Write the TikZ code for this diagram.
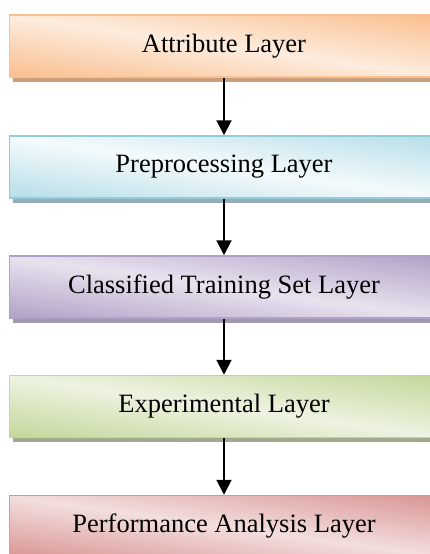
\documentclass[tikz,border=0pt]{standalone}
\usepackage{fontspec}
\setmainfont{Liberation Serif}
\usetikzlibrary{arrows.meta,shadows}
\definecolor{orD}{RGB}{250,191,143}
\definecolor{orL}{RGB}{253,236,222}
\definecolor{orB}{RGB}{250,192,144}
\definecolor{orS}{RGB}{200,160,128}
\definecolor{blD}{RGB}{183,222,232}
\definecolor{blL}{RGB}{244,250,252}
\definecolor{blB}{RGB}{146,205,220}
\definecolor{blS}{RGB}{150,172,182}
\definecolor{puD}{RGB}{178,161,199}
\definecolor{puL}{RGB}{232,226,238}
\definecolor{puB}{RGB}{178,161,199}
\definecolor{puS}{RGB}{160,152,172}
\definecolor{grD}{RGB}{196,215,155}
\definecolor{grL}{RGB}{237,243,225}
\definecolor{grB}{RGB}{196,215,155}
\definecolor{grS}{RGB}{162,170,142}
\definecolor{reD}{RGB}{217,150,148}
\definecolor{reL}{RGB}{243,222,222}
\definecolor{reB}{RGB}{217,150,148}
\definecolor{reS}{RGB}{175,130,130}
\pgfdeclareverticalshading[dk,lt]{diagband}{100bp}{%
  color(0bp)=(dk); color(22bp)=(dk); color(50bp)=(lt);
  color(78bp)=(dk); color(100bp)=(dk)}
\tikzset{
  layerbox/.style n args={4}{draw=#3, line width=1.5pt,
    shade, shading=diagband, shading angle=-8,
    /utils/exec={\colorlet{dk}{#1}\colorlet{lt}{#2}},
    minimum width=429pt, minimum height=62pt, inner sep=0pt,
    general shadow={shadow xshift=3.5pt, shadow yshift=-4.5pt, fill=#4},
    font=\fontsize{26.5}{30}\selectfont},
  flow/.style={-{Triangle[length=15pt,width=15pt]}, line width=2pt, black}
}
\begin{document}
\begin{tikzpicture}[x=1pt,y=-1pt]
\useasboundingbox (0,0) rectangle (430,554);
\clip (0,0) rectangle (430,554);
\fill[white] (0,0) rectangle (430,554);
\node[layerbox={orD}{orL}{orB}{orS}] (a) at (224,46) {Attribute Layer};
\node[layerbox={blD}{blL}{blB}{blS}] (b) at (224,167) {Preprocessing Layer};
\node[layerbox={puD}{puL}{puB}{puS}] (c) at (224,287) {Classified Training Set Layer};
\node[layerbox={grD}{grL}{grB}{grS}] (d) at (224,406.5) {Experimental Layer};
\node[layerbox={reD}{reL}{reB}{reS}] (e) at (224,526.5) {Performance Analysis Layer};
\draw[flow] (a.south) -- (b.north);
\draw[flow] (b.south) -- (c.north);
\draw[flow] (c.south) -- (d.north);
\draw[flow] (d.south) -- (e.north);
\end{tikzpicture}
\end{document}
